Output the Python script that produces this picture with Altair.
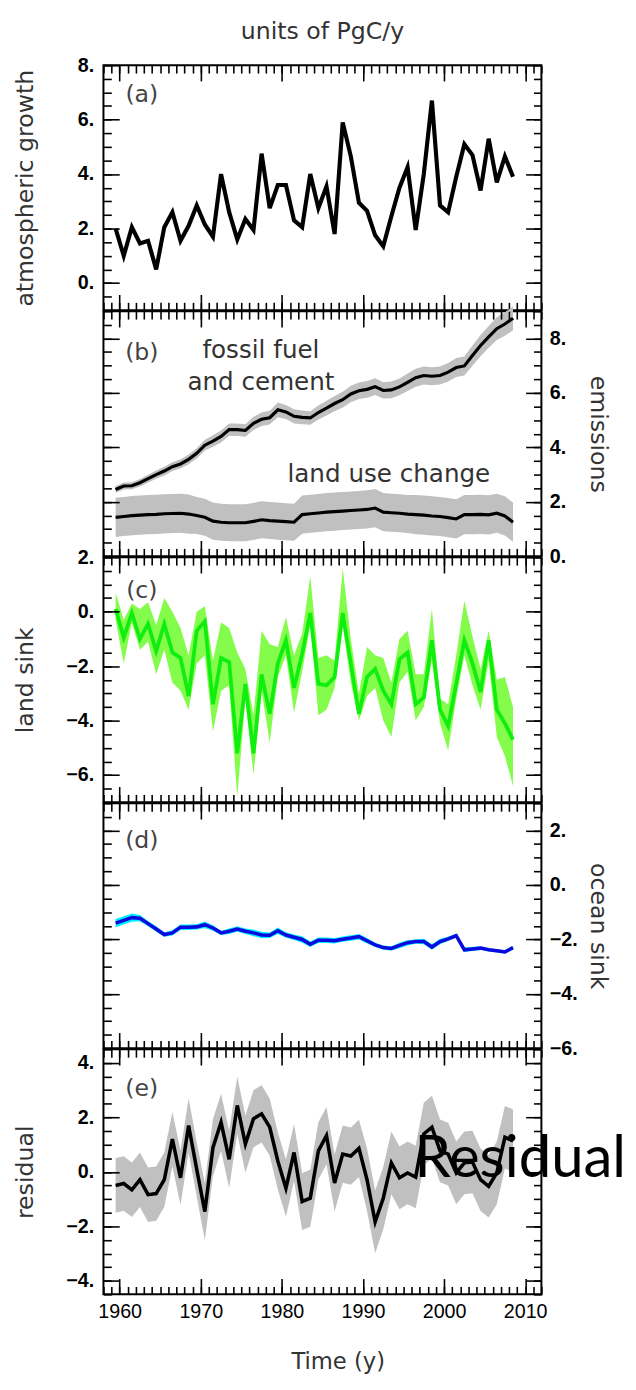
import altair as alt
import pandas as pd

# ---------------- data (PgC/y), years 1959-2008 ----------------
years = list(range(1959, 2009))

atm_growth = [2.0, 1.0, 2.05, 1.45, 1.55, 0.5, 2.05, 2.6, 1.55, 2.1,
              2.85, 2.15, 1.7, 4.0, 2.6, 1.6, 2.35, 1.95, 4.75, 2.75,
              3.6, 3.6, 2.3, 2.05, 4.0, 2.75, 3.55, 1.8, 5.9, 4.65,
              2.95, 2.65, 1.75, 1.35, 2.45, 3.5, 4.25, 1.95, 4.0, 6.7,
              2.85, 2.6, 3.9, 5.1, 4.7, 3.4, 5.3, 3.7, 4.65, 3.9]

fossil = [2.45, 2.58, 2.59, 2.70, 2.85, 3.00, 3.13, 3.29, 3.39, 3.56,
          3.78, 4.08, 4.23, 4.40, 4.65, 4.65, 4.62, 4.88, 5.03, 5.09,
          5.38, 5.30, 5.14, 5.10, 5.08, 5.28, 5.44, 5.61, 5.75, 5.96,
          6.08, 6.13, 6.23, 6.09, 6.11, 6.22, 6.39, 6.56, 6.64, 6.61,
          6.64, 6.76, 6.93, 6.99, 7.37, 7.74, 8.06, 8.36, 8.53, 8.74]
fossil_unc = [0.13, 0.13, 0.13, 0.14, 0.14, 0.15, 0.16, 0.16, 0.17, 0.18,
              0.19, 0.20, 0.21, 0.22, 0.23, 0.23, 0.23, 0.24, 0.25, 0.25,
              0.27, 0.26, 0.26, 0.25, 0.25, 0.26, 0.27, 0.28, 0.29, 0.30,
              0.30, 0.31, 0.31, 0.30, 0.31, 0.31, 0.32, 0.33, 0.33, 0.33,
              0.33, 0.34, 0.35, 0.35, 0.37, 0.39, 0.40, 0.42, 0.43, 0.44]

land_use = [1.43, 1.46, 1.49, 1.51, 1.53, 1.54, 1.56, 1.57, 1.58, 1.55,
            1.50, 1.43, 1.29, 1.25, 1.23, 1.23, 1.23, 1.28, 1.34, 1.31,
            1.29, 1.27, 1.25, 1.53, 1.56, 1.59, 1.62, 1.64, 1.66, 1.68,
            1.70, 1.72, 1.77, 1.62, 1.60, 1.58, 1.55, 1.53, 1.51, 1.48,
            1.46, 1.42, 1.37, 1.53, 1.53, 1.54, 1.52, 1.58, 1.48, 1.25]
land_use_unc = [0.72, 0.72, 0.72, 0.72, 0.72, 0.72, 0.72, 0.72, 0.72, 0.72,
                0.68, 0.68, 0.68, 0.68, 0.68, 0.68, 0.68, 0.68, 0.68, 0.68,
                0.68, 0.68, 0.68, 0.70, 0.70, 0.70, 0.70, 0.70, 0.70, 0.70,
                0.70, 0.70, 0.70, 0.70, 0.70, 0.70, 0.70, 0.72, 0.72, 0.72,
                0.72, 0.72, 0.72, 0.72, 0.72, 0.72, 0.72, 0.72, 0.72, 0.72]

land_sink = [0.1, -0.95, -0.05, -1.0, -0.45, -1.45, -0.45, -1.5, -1.7, -3.1,
             -0.7, -0.35, -3.4, -1.7, -1.85, -5.2, -2.65, -5.2, -2.3, -3.75,
             -1.9, -1.05, -2.8, -1.55, -0.05, -2.65, -2.7, -2.4, -0.05, -1.9,
             -3.75, -2.4, -2.1, -2.9, -3.4, -1.75, -1.5, -3.4, -3.15, -1.05,
             -3.6, -4.2, -2.65, -1.05, -1.9, -2.95, -1.05, -3.6, -4.1, -4.7]
land_lo = [-0.3, -1.9, -0.4, -1.4, -1.1, -2.3, -1.4, -2.6, -2.9, -3.6,
           -1.9, -1.6, -4.4, -2.9, -2.7, -6.8, -3.2, -6.0, -2.9, -4.8,
           -2.4, -1.6, -3.7, -2.2, -0.5, -3.8, -3.6, -2.8, -0.5, -2.6,
           -4.0, -3.1, -2.8, -4.0, -4.6, -2.6, -2.2, -4.0, -3.5, -1.8,
           -4.1, -5.1, -3.2, -1.6, -2.7, -3.6, -1.8, -4.6, -5.3, -6.4]
land_hi = [0.7, -0.3, 0.3, 0.1, 0.35, -0.5, 0.5, 0.0, -0.6, -1.6,
           0.0, 0.2, -1.8, -0.4, -0.6, -1.5, -2.1, -3.8, -0.7, -1.2,
           -1.3, -0.2, -1.6, -0.8, 1.3, -1.7, -1.6, -1.8, 1.6, -1.0,
           -3.0, -1.3, -1.6, -1.7, -2.6, -1.0, -0.7, -2.3, -2.3, 0.1,
           -3.2, -3.4, -1.6, 0.4, -0.9, -2.1, -0.7, -2.5, -2.4, -3.5]

ocean_sink = [-1.40, -1.30, -1.20, -1.22, -1.42, -1.62, -1.82, -1.76, -1.55, -1.55,
              -1.54, -1.46, -1.58, -1.76, -1.70, -1.62, -1.70, -1.76, -1.84, -1.85,
              -1.68, -1.84, -1.92, -2.00, -2.18, -2.03, -2.03, -2.05, -1.99, -1.95,
              -1.90, -2.05, -2.20, -2.30, -2.33, -2.22, -2.12, -2.08, -2.08, -2.28,
              -2.08, -1.98, -1.86, -2.38, -2.35, -2.32, -2.38, -2.42, -2.46, -2.30]
ocean_unc = [0.15, 0.15, 0.15, 0.12, 0.10, 0.10, 0.08, 0.10, 0.10, 0.10,
             0.10, 0.12, 0.10, 0.08, 0.10, 0.10, 0.10, 0.12, 0.12, 0.10,
             0.12, 0.10, 0.10, 0.12, 0.10, 0.10, 0.10, 0.10, 0.10, 0.10,
             0.10, 0.10, 0.08, 0.08, 0.08, 0.10, 0.10, 0.08, 0.10, 0.10,
             0.10, 0.08, 0.08, 0.08, 0.08, 0.06, 0.06, 0.06, 0.06, 0.06]

residual = [-0.5, -0.43, -0.66, -0.29, -0.84, -0.8, -0.29, 1.2, -0.22, 1.7,
            0.09, -1.46, 0.89, 1.82, 0.46, 2.44, 1.02, 1.95, 2.13, 1.64,
            0.4, -0.6, 0.71, -1.09, -0.97, 0.77, 1.33, -0.41, 0.65, 0.58,
            0.86, -0.29, -1.84, -0.97, 0.33, -0.22, -0.04, -0.19, 1.39, 1.64,
            0.77, 0.65, -0.04, 0.33, 0.36, -0.29, -0.53, -0.04, 1.27, 1.14]
residual_unc = [1.0, 1.0, 1.0, 1.0, 1.0, 1.0, 1.0, 1.0, 1.0, 1.0,
                1.0, 1.05, 1.05, 1.05, 1.05, 1.05, 1.05, 1.05, 1.05, 1.05,
                1.05, 1.05, 1.05, 1.05, 1.05, 1.05, 1.05, 1.05, 1.05, 1.05,
                1.05, 1.15, 1.15, 1.15, 1.15, 1.15, 1.15, 1.15, 1.15, 1.15,
                1.15, 1.15, 1.15, 1.15, 1.15, 1.15, 1.15, 1.15, 1.15, 1.15]

# axis ticks
x_major = [1960, 1970, 1980, 1990, 2000, 2010]
x_minor = list(range(1958, 2013))
x_domain = [1958, 2012]

# ---------------- style ----------------
W, H = 445, 249
TXT = "DejaVu Sans"
NUM = "Liberation Sans"
TXT_COLOR = "#333333"
TITLE_SIZE = 24
LBL_EXPR = "format(datum.value, 'd') + '.'"


def make_df(vals, unc=None, lo=None, hi=None):
    d = {"year": years, "v": vals}
    if unc is not None:
        d["u"] = unc
    if lo is not None:
        d["lo"] = lo
        d["hi"] = hi
    return pd.DataFrame(d)


def x_axis(orient, major, labels=False, title=None):
    size = 16 if major else 8
    kw = dict(orient=orient, values=x_major if major else x_minor,
              tickSize=size, offset=-size, domain=False, grid=False,
              tickColor="black", tickWidth=1.6, labels=labels, zindex=2)
    if labels:
        kw.update(format="d", labelFont=NUM, labelFontSize=20,
                  labelColor="black", labelPadding=8, labelFlush=False,
                  labelOverlap=False)
    if title:
        kw.update(title=title, titleFont=TXT, titleFontSize=23,
                  titleFontWeight="normal", titleColor=TXT_COLOR,
                  titleX=238, titleY=84, titleAlign="center",
                  titleBaseline="middle", titleAngle=0)
    else:
        kw["title"] = None
    return alt.Axis(**kw)


def y_axis(orient, vals, major, labels=False, title=None, title_dy=0):
    size = 16 if major else 8
    kw = dict(orient=orient, values=vals, tickSize=size, offset=-size,
              domain=False, grid=False, tickColor="black", tickWidth=1.6,
              labels=labels, zindex=2)
    if labels:
        kw.update(labelExpr=LBL_EXPR, labelFont=NUM, labelFontSize=20,
                  labelFontWeight="bold", labelColor="black",
                  labelPadding=10 if orient == "left" else 8,
                  labelFlush=False, labelOverlap=False)
    if title:
        kw.update(title=title, titleFont=TXT, titleFontSize=TITLE_SIZE,
                  titleFontWeight="normal", titleColor=TXT_COLOR,
                  titleAlign="center", titleBaseline="middle",
                  titleY=H / 2 + title_dy,
                  titleX=-95 if orient == "left" else 73,
                  titleAngle=270 if orient == "left" else 90)
    else:
        kw["title"] = None
    return alt.Axis(**kw)


def text_layer(s, x, y, size=25, font=TXT, color=TXT_COLOR, align="center",
               baseline="middle"):
    return alt.Chart(pd.DataFrame({"s": [s]})).mark_text(
        font=font, fontSize=size, color=color, align=align, baseline=baseline
    ).encode(text="s:N", x=alt.value(x), y=alt.value(y))


def panel(df, ydom, ymaj, ymin, side, ytitle, letter, letter_y,
          line_color, line_width, band_color=None, band_kind=None,
          bottom=False, extra=None, title_dy=0):
    xs = alt.Scale(domain=x_domain, nice=False, zero=False)
    ys = alt.Scale(domain=ydom, nice=False, zero=False)
    other = "right" if side == "left" else "left"
    base = alt.Chart(df).transform_calculate(t="datum.year + 0.5")
    if band_kind == "unc":
        base = base.transform_calculate(lo="datum.v - datum.u",
                                        hi="datum.v + datum.u")
    layers = []
    if band_kind:
        layers.append(base.mark_area(color=band_color, opacity=1).encode(
            x=alt.X("t:Q", scale=xs, axis=None),
            y=alt.Y("lo:Q", scale=ys, axis=None),
            y2="hi:Q"))
    layers.append(base.mark_line(color=line_color, strokeWidth=line_width).encode(
        x=alt.X("t:Q", scale=xs, axis=None),
        y=alt.Y("v:Q", scale=ys, axis=None)))
    ghost = base.mark_line(strokeOpacity=0)
    axes = [
        (x_axis("bottom", True, labels=bottom, title="Time (y)" if bottom else None),
         y_axis(side, ymaj, True, labels=True, title=ytitle, title_dy=title_dy)),
        (x_axis("bottom", False), y_axis(side, ymin, False)),
        (x_axis("top", True), y_axis(other, ymaj, True)),
        (x_axis("top", False), y_axis(other, ymin, False)),
    ]
    for ax_x, ax_y in axes:
        layers.append(ghost.encode(
            x=alt.X("t:Q", scale=xs, axis=ax_x),
            y=alt.Y("v:Q", scale=ys, axis=ax_y)))
    layers.append(text_layer(letter, 39, letter_y, size=24, color="#444444"))
    if extra:
        layers.extend(extra)
    return alt.layer(*layers).resolve_axis(
        x="independent", y="independent").properties(width=W, height=H)


def half_steps(lo, hi):
    return [k / 2 for k in range(int(lo * 2), int(hi * 2) + 1)]


pa = panel(make_df(atm_growth), [-1, 8], [0, 2, 4, 6, 8], half_steps(-1, 8),
           "left", "atmospheric growth", "(a)", 30, "black", 4.2,
           extra=[text_layer("units of PgC/y", W / 2, -34, size=TITLE_SIZE)])

# panel b : two series (fossil fuel and land use change)
df_ff = make_df(fossil, unc=fossil_unc)
df_luc = make_df(land_use, unc=land_use_unc)
xs_b = alt.Scale(domain=x_domain, nice=False, zero=False)
ys_b = alt.Scale(domain=[0, 9], nice=False, zero=False)


def band_line(df, width):
    b = alt.Chart(df).transform_calculate(
        t="datum.year + 0.5", lo="datum.v - datum.u", hi="datum.v + datum.u")
    return [
        b.mark_area(color="#c0c0c0").encode(
            x=alt.X("t:Q", scale=xs_b, axis=None),
            y=alt.Y("lo:Q", scale=ys_b, axis=None), y2="hi:Q"),
        b.mark_line(color="black", strokeWidth=width).encode(
            x=alt.X("t:Q", scale=xs_b, axis=None),
            y=alt.Y("v:Q", scale=ys_b, axis=None)),
    ]


pb = panel(df_ff, [0, 9], [0, 2, 4, 6, 8], half_steps(0, 9), "right",
           "emissions", "(b)", 43, "black", 3.2,
           extra=band_line(df_luc, 3.2) + band_line(df_ff, 3.2) + [
               text_layer("fossil fuel", 160, 40),
               text_layer("and cement", 160, 72),
               text_layer("land use change", 290, 166)])

pc = panel(make_df(land_sink, lo=land_lo, hi=land_hi), [-7, 2],
           [-6, -4, -2, 0, 2], half_steps(-7, 2), "left", "land sink",
           "(c)", 34, "#10ee10", 3.8, band_color="#84fc4c", band_kind="lohi")

pd_ = panel(make_df(ocean_sink, unc=ocean_unc), [-6, 3],
            [-6, -4, -2, 0, 2], half_steps(-6, 3), "right", "ocean sink",
            "(d)", 38, "#0a0ae0", 3.6, band_color="#00f0ff", band_kind="unc")

pe = panel(make_df(residual, unc=residual_unc), [-4.5, 4.5],
           [-4, -2, 0, 2, 4], half_steps(-4.5, 4.5), "left", "residual",
           "(e)", 40, "black", 3.6, band_color="#c0c0c0", band_kind="unc",
           bottom=True,
           extra=[text_layer("Residual", 316, 130, size=59, font="Lato",
                             color="black", align="left",
                             baseline="alphabetic")])

chart = alt.vconcat(pa, pb, pc, pd_, pe, spacing=1, bounds="flush").properties(
    padding={"left": 5, "top": 0, "right": 0, "bottom": 0}
).configure_view(stroke="black", strokeWidth=2)

chart.save("out.html", embed_options={"renderer": "svg", "actions": False})
